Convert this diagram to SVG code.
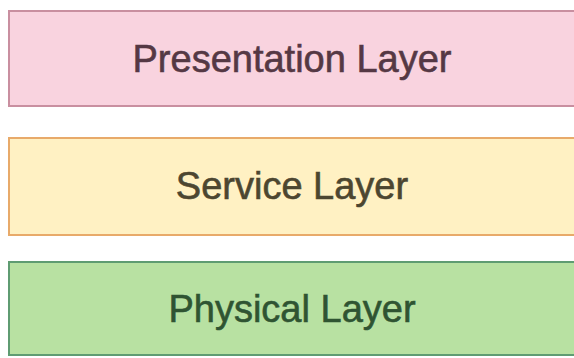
<svg xmlns="http://www.w3.org/2000/svg" width="574" height="358" viewBox="0 0 574 358">
<style>
.box{stroke-width:2}
.lbl{font-family:"Liberation Sans",Arial,sans-serif;font-size:38px;text-anchor:middle;stroke-width:0.6}
</style>
<rect width="574" height="358" fill="#ffffff"/>
<g id="presentation">
<rect class="box" x="9" y="11" width="580" height="95" fill="#f9d3df" stroke="#c98fa0"/>
<text class="lbl" x="292" y="72" fill="#553844" stroke="#553844">Presentation Layer</text>
</g>
<g id="service">
<rect class="box" x="9" y="138" width="580" height="97" fill="#fff1c3" stroke="#e8aa6a"/>
<text class="lbl" x="292" y="199" fill="#4c4630" stroke="#4c4630">Service Layer</text>
</g>
<g id="physical">
<rect class="box" x="9" y="262" width="580" height="93" fill="#b8e1a2" stroke="#5f9c72"/>
<text class="lbl" x="292" y="322" fill="#2f5432" stroke="#2f5432">Physical Layer</text>
</g>
<g id="connectors"></g>
</svg>
